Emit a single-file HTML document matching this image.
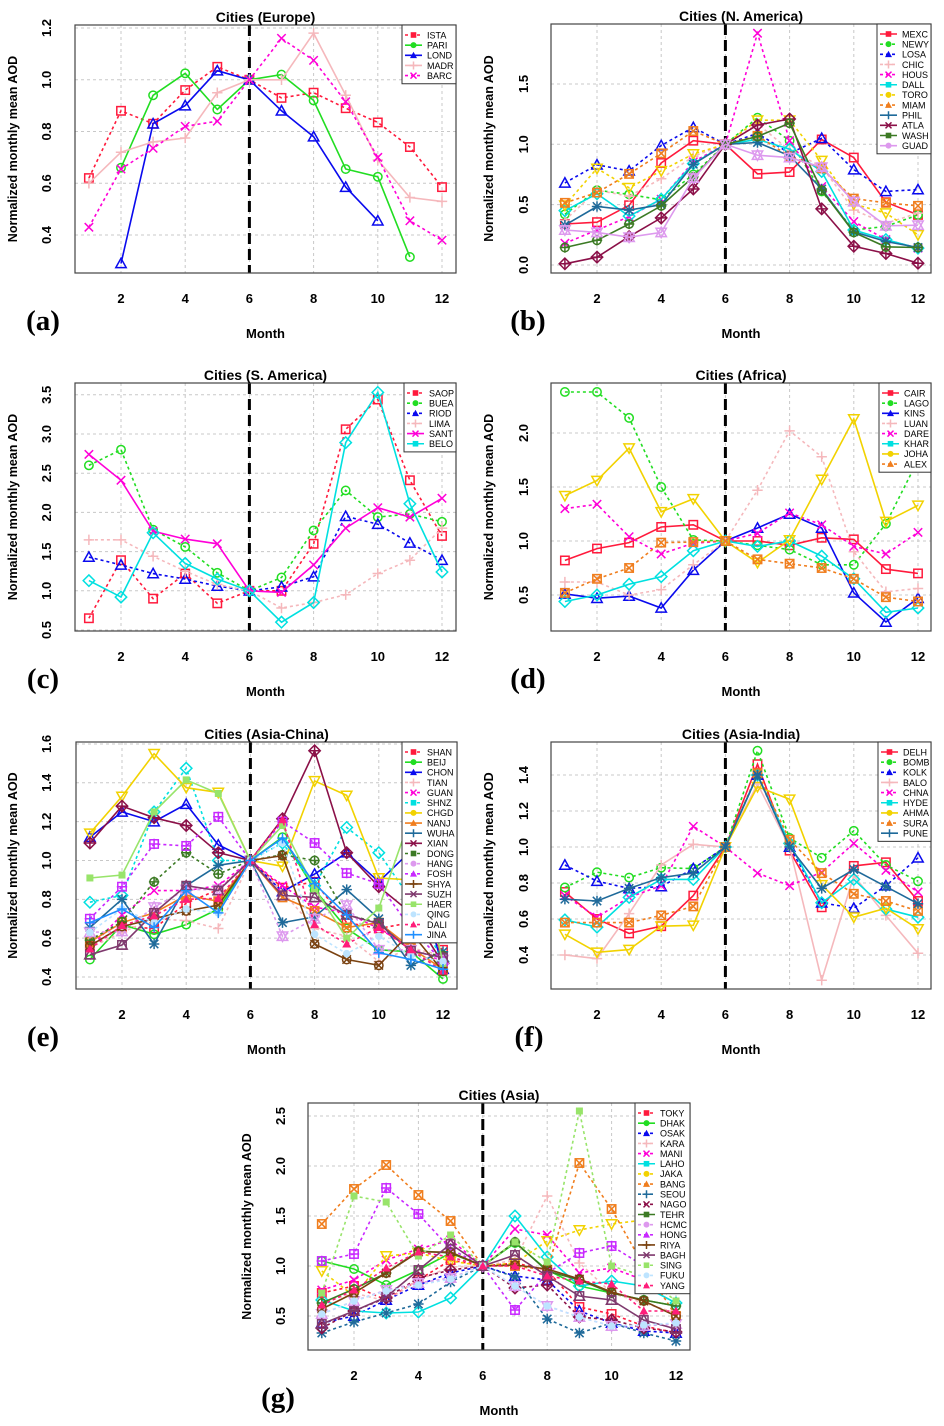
<!DOCTYPE html>
<html><head><meta charset="utf-8"><title>Normalized monthly mean AOD by region</title>
<style>
html,body{margin:0;padding:0;background:#fff;}
svg{display:block;font-family:"Liberation Sans",Arial,sans-serif;}
.t{font-weight:bold;}
</style></head>
<body>
<svg id="fig" width="944" height="1426" viewBox="0 0 944 1426" xmlns="http://www.w3.org/2000/svg"></svg>
<script>
const months = [1,2,3,4,5,6,7,8,9,10,11,12];
const yTicksA = [0.4,0.6,0.8,1.0,1.2];
const yTicksB = [0.0,0.5,1.0,1.5];
const yTicksC = [0.5,1.0,1.5,2.0,2.5,3.0,3.5];
const yTicksD = [0.5,1.0,1.5,2.0];
const yTicksE = [0.4,0.6,0.8,1.0,1.2,1.4,1.6];
const yTicksF = [0.4,0.6,0.8,1.0,1.2,1.4];
const yTicksG = [0.5,1.0,1.5,2.0,2.5];
const xTicks = [2,4,6,8,10,12];

const namesA = ["ISTA","PARI","LOND","MADR","BARC"];
const dashA = [1,0,0,0,1];
const valsA = [
[0.62,0.88,0.83,0.96,1.05,1,0.93,0.95,0.89,0.835,0.74,0.585],
[null,0.66,0.94,1.025,0.885,1,1.02,0.92,0.655,0.625,0.315,null],
[null,0.29,0.83,0.9,1.035,1,0.88,0.78,0.585,0.455,null,null],
[0.6,0.72,0.76,0.775,0.95,1,1.0,1.18,0.94,0.69,0.545,0.53],
[0.43,0.655,0.735,0.82,0.84,1,1.16,1.075,0.915,0.70,0.455,0.38]];

const namesB = ["MEXC","NEWY","LOSA","CHIC","HOUS","DALL","TORO","MIAM","PHIL","ATLA","WASH","GUAD"];
const dashB = [0,1,1,1,1,0,1,1,0,0,0,0];
const valsB = [
[0.34,0.355,0.495,0.845,1.03,1,0.755,0.77,1.04,0.89,0.52,0.415],
[0.42,0.62,0.585,0.54,0.75,1,1.22,1.03,0.61,0.29,0.32,0.415],
[0.68,0.83,0.78,0.99,1.14,1,1.09,0.925,1.05,0.79,0.61,0.625],
[0.37,0.62,0.57,0.715,0.9,1,1.17,0.95,0.815,0.455,0.345,0.43],
[0.18,0.29,0.4,0.545,0.855,1,1.92,1.03,0.65,0.36,0.21,0.14],
[0.45,0.59,0.405,0.545,0.84,1,1.04,0.96,0.775,0.29,0.21,0.14],
[0.495,0.8,0.64,0.78,0.92,1,1.2,1.2,0.865,0.505,0.43,0.25],
[0.515,0.6,0.755,0.925,1.11,1,1.07,0.9,0.8,0.55,0.515,0.49],
[0.33,0.485,0.455,0.5,0.835,1,1.015,0.905,0.63,0.275,0.195,0.145],
[0.01,0.065,0.235,0.39,0.63,1,1.16,1.21,0.465,0.155,0.095,0.015],
[0.145,0.205,0.34,0.49,0.73,1,1.065,1.175,0.62,0.27,0.15,0.145],
[0.29,0.27,0.23,0.27,0.72,1,0.91,0.89,0.81,0.525,0.325,0.33]];

const namesC = ["SAOP","BUEA","RIOD","LIMA","SANT","BELO"];
const dashC = [1,1,1,1,0,0];
const valsC = [
[0.65,1.39,0.9,1.22,0.84,1,1.0,1.6,3.06,3.44,2.41,1.7],
[2.6,2.8,1.78,1.56,1.23,1,1.17,1.77,2.28,1.94,1.98,1.88],
[1.43,1.33,1.22,1.15,1.06,1,1.05,1.18,1.95,1.85,1.61,1.39],
[1.65,1.65,1.44,1.25,1.08,1,0.78,0.85,0.95,1.22,1.39,1.8],
[2.74,2.41,1.76,1.66,1.6,1,0.98,1.33,1.8,2.06,1.94,2.18],
[1.13,0.92,1.74,1.35,1.15,1,0.6,0.85,2.89,3.53,2.11,1.24]];

const namesD = ["CAIR","LAGO","KINS","LUAN","DARE","KHAR","JOHA","ALEX"];
const dashD = [0,1,0,1,1,0,0,1];
const valsD = [
[0.82,0.93,0.985,1.13,1.15,1,1.0,0.96,1.03,1.015,0.74,0.70],
[2.38,2.38,2.14,1.5,1.01,1,0.96,0.92,0.78,0.78,1.16,1.75],
[0.51,0.47,0.49,0.38,0.73,1,1.12,1.25,1.12,0.52,0.25,0.47],
[0.62,0.62,0.5,0.55,0.78,1,1.47,2.02,1.78,0.9,0.53,0.56],
[1.3,1.34,1.04,0.88,0.98,1,1.07,1.26,1.15,0.95,0.88,1.08],
[0.44,0.5,0.6,0.67,0.91,1,0.95,1.0,0.86,0.65,0.34,0.38],
[1.42,1.56,1.86,1.27,1.39,1,0.8,1.01,1.57,2.13,1.18,1.33],
[0.52,0.65,0.75,0.985,0.99,1,0.83,0.79,0.75,0.65,0.48,0.44]];

const namesE = ["SHAN","BEIJ","CHON","TIAN","GUAN","SHNZ","CHGD","NANJ","WUHA","XIAN","DONG","HANG","FOSH","SHYA","SUZH","HAER","QING","DALI","JINA"];
const dashE = [1,0,0,1,1,1,0,0,0,0,1,1,1,0,0,0,1,1,0];
const valsE = [
[0.56,0.66,0.65,0.78,0.85,1,0.86,0.89,0.68,0.65,0.68,0.54],
[0.49,0.67,0.62,0.67,0.75,1,1.12,0.85,0.65,0.54,0.53,0.39],
[1.12,1.25,1.2,1.29,1.08,1,0.84,0.93,1.04,0.89,1.05,0.44],
[0.55,0.63,0.7,0.69,0.65,1,0.84,0.65,0.61,0.48,0.55,0.51],
[0.55,0.72,0.845,0.845,0.87,1,0.87,0.76,0.73,0.65,0.55,0.48],
[0.785,0.82,1.25,1.475,1.0,1,1.09,0.87,1.17,1.04,0.8,0.48],
[1.14,1.33,1.55,1.375,1.35,1,0.97,1.41,1.335,0.91,0.9,0.88],
[0.58,0.68,0.73,0.82,0.79,1,0.81,0.74,0.655,0.68,0.55,0.44],
[0.655,0.8,0.57,0.87,0.975,1,0.68,0.71,0.85,0.7,0.46,0.53],
[1.09,1.28,1.22,1.18,1.04,1,1.215,1.565,1.04,0.865,0.73,0.47],
[0.59,0.685,0.89,1.04,0.93,1,1.03,1.0,0.72,0.68,0.53,0.51],
[0.63,0.635,0.76,0.85,0.85,1,0.61,0.7,0.77,0.54,0.54,0.49],
[0.7,0.865,1.085,1.075,1.225,1,1.2,1.09,0.935,0.88,0.65,0.48],
[0.56,0.66,0.7,0.74,0.77,1,1.025,0.57,0.49,0.46,0.63,0.43],
[0.515,0.565,0.73,0.87,0.845,1,0.82,0.81,0.72,0.675,0.535,0.5],
[0.91,0.925,1.25,1.415,1.345,1,1.18,0.855,0.6,0.755,1.23,0.47],
[0.63,0.75,0.68,0.75,0.73,1,1.09,0.62,0.52,0.61,0.51,0.48],
[0.545,0.665,0.715,0.8,0.805,1,1.21,0.67,0.57,0.655,0.54,0.43],
[0.68,0.75,0.655,0.845,0.73,1,1.115,0.88,0.72,0.525,0.49,0.44]];

const namesF = ["DELH","BOMB","KOLK","BALO","CHNA","HYDE","AHMA","SURA","PUNE"];
const dashF = [0,1,1,0,1,0,0,1,0];
const valsF = [
[0.75,0.6,0.52,0.56,0.73,1,1.46,0.98,0.665,0.895,0.915,0.7],
[0.775,0.86,0.83,0.885,0.88,1,1.535,1.05,0.94,1.09,0.9,0.81],
[0.9,0.81,0.77,0.78,0.88,1,1.4,1.0,0.69,0.66,0.785,0.94],
[0.4,0.38,0.63,0.9,1.015,1,1.35,1.0,0.26,0.84,0.62,0.41],
[0.73,0.61,0.72,0.785,1.115,1,0.855,0.785,0.86,1.02,0.87,0.75],
[0.595,0.555,0.72,0.82,0.82,1,1.4,1.02,0.69,0.82,0.655,0.61],
[0.515,0.415,0.43,0.56,0.565,1,1.335,1.265,0.79,0.61,0.66,0.545],
[0.58,0.58,0.58,0.62,0.67,1,1.41,1.04,0.855,0.74,0.7,0.645],
[0.71,0.7,0.77,0.83,0.855,1,1.4,1.0,0.77,0.875,0.78,0.685]];

const namesG = ["TOKY","DHAK","OSAK","KARA","MANI","LAHO","JAKA","BANG","SEOU","NAGO","TEHR","HCMC","HONG","RIYA","BAGH","SING","FUKU","YANG"];
const dashG = [1,0,1,1,1,0,1,1,1,1,0,1,1,0,0,1,1,1];
const valsG = [
[0.73,0.8,0.66,0.86,1.06,1,1.03,0.96,0.59,0.52,0.4,0.33],
[1.05,0.97,0.81,0.96,1.13,1,1.23,0.96,0.8,0.73,0.66,0.6],
[0.43,0.5,0.66,0.81,0.93,1,0.9,0.86,0.55,0.43,0.35,0.33],
[0.63,0.73,0.65,0.86,0.99,1,1.06,1.7,1.03,0.73,0.63,0.53],
[0.76,0.86,1.06,1.17,1.26,1,1.37,1.31,0.93,0.98,0.86,0.8],
[0.66,0.55,0.53,0.54,0.68,1,1.5,1.09,0.8,0.85,0.8,0.63],
[0.95,0.7,1.1,1.13,1.05,1,1.03,1.25,1.36,1.42,1.46,1.4],
[1.42,1.77,2.01,1.71,1.45,1,1.0,0.96,2.03,1.57,1.0,0.5],
[0.33,0.44,0.53,0.62,0.84,1,0.89,0.47,0.33,0.43,0.33,0.25],
[0.38,0.55,0.68,0.88,0.96,1,0.78,0.81,0.49,0.46,0.38,0.34],
[0.63,0.77,0.93,1.15,1.13,1,1.24,0.95,0.86,0.73,0.66,0.6],
[0.52,0.65,0.76,0.83,0.88,1,0.8,0.6,0.49,0.4,0.4,0.42],
[1.05,1.12,1.78,1.52,1.17,1,0.56,0.93,1.13,1.2,1.0,0.8],
[0.57,0.73,0.93,1.14,1.14,1,1.01,0.97,0.87,0.74,0.65,0.5],
[0.42,0.55,0.69,0.96,1.22,1,1.11,0.9,0.7,0.66,0.46,0.37],
[0.73,1.7,1.64,1.1,1.31,1,1.24,1.04,2.55,1.0,0.9,0.65],
[0.52,0.65,0.75,0.81,0.87,1,0.8,0.6,0.49,0.4,0.41,0.43],
[0.61,0.76,0.98,1.14,1.09,1,1.0,0.9,0.85,0.82,0.55,0.55]];

const COLORS = ["#ff1a3c","#22dd22","#0a0aee","#f5b8bc","#ff00d8","#00e0e0","#f2d200","#f07e1e","#1f6a9a","#8b1048","#3c7a24","#dd99ee","#c828ff","#7a4210","#7f3a6e","#98e46a","#bde4ff","#ff1d7a","#1e8fff"];
const NS = "http://www.w3.org/2000/svg";
const fig = document.getElementById('fig');
function el(tag, attrs, parent){const e=document.createElementNS(NS,tag);for(const k in attrs)e.setAttribute(k,attrs[k]);(parent||fig).appendChild(e);return e;}

function marker(g, pch, x, y, c){
  const s=4.2, o={stroke:c,'stroke-width':1.5,fill:'none'};
  const sq=()=>el('rect',Object.assign({x:x-s,y:y-s,width:2*s,height:2*s},o),g);
  const ci=()=>el('circle',Object.assign({cx:x,cy:y,r:s},o),g);
  const tri=()=>el('polygon',Object.assign({points:`${x},${y-s-1} ${x-s-1},${y+s} ${x+s+1},${y+s}`},o),g);
  const tdn=()=>el('polygon',Object.assign({points:`${x},${y+s+1} ${x-s-1},${y-s} ${x+s+1},${y-s}`},o),g);
  const pl=()=>el('path',Object.assign({d:`M${x-s-1} ${y}H${x+s+1}M${x} ${y-s-1}V${y+s+1}`},o),g);
  const xx=()=>el('path',Object.assign({d:`M${x-s} ${y-s}L${x+s} ${y+s}M${x-s} ${y+s}L${x+s} ${y-s}`},o),g);
  const di=()=>el('polygon',Object.assign({points:`${x},${y-s-1.5} ${x+s+1.5},${y} ${x},${y+s+1.5} ${x-s-1.5},${y}`},o),g);
  switch(pch){
    case 0: sq(); break; case 1: ci(); break; case 2: tri(); break; case 3: pl(); break;
    case 4: xx(); break; case 5: di(); break; case 6: tdn(); break;
    case 7: sq(); xx(); break; case 8: pl(); xx(); break; case 9: di(); pl(); break;
    case 10: ci(); pl(); break; case 11: tri(); tdn(); break; case 12: sq(); pl(); break;
    case 13: ci(); xx(); break; case 14: sq(); tri(); break;
    case 15: el('rect',{x:x-3.5,y:y-3.5,width:7,height:7,fill:c},g); break;
    case 16: el('circle',{cx:x,cy:y,r:3.8,fill:c},g); break;
    case 17: el('polygon',{points:`${x},${y-4.5} ${x-4.5},${y+3.5} ${x+4.5},${y+3.5}`,fill:c},g); break;
    default: pl(); break;
  }
}
function legMarker(g, i, x, y, c){
  const k=i%5;
  if(k===0) el('rect',{x:x-2.8,y:y-2.8,width:5.6,height:5.6,fill:c},g);
  else if(k===1) el('circle',{cx:x,cy:y,r:3,fill:c},g);
  else if(k===2) el('polygon',{points:`${x},${y-3.5} ${x-3.5},${y+2.8} ${x+3.5},${y+2.8}`,fill:c},g);
  else if(k===3) el('path',{d:`M${x-4} ${y}H${x+4}M${x} ${y-4}V${y+4}`,stroke:c,'stroke-width':1.5},g);
  else el('path',{d:`M${x-3} ${y-3}L${x+3} ${y+3}M${x-3} ${y+3}L${x+3} ${y-3}`,stroke:c,'stroke-width':1.5},g);
}

function panel(p){
  const g=el('g',{});
  
  
  const xs=m=>p.x2+(m-2)*p.dx;
  const ys=v=>p.yref-(v-p.vref)*p.ky;
  // grid
  const grid=el('g',{},g);
  
  
  xTicks.forEach(m=>el('line',{x1:xs(m),x2:xs(m),y1:p.y0,y2:p.y1,stroke:'#c8c8c8','stroke-width':1,'stroke-dasharray':'3,3'},grid));
  p.yt.forEach(v=>el('line',{x1:p.x0,x2:p.x1,y1:ys(v),y2:ys(v),stroke:'#c8c8c8','stroke-width':1,'stroke-dasharray':'3,3'},grid));
  // vertical line at month 6
  const vl=el('line',{x1:xs(6),x2:xs(6),y1:p.y0,y2:p.y1,stroke:'#000','stroke-width':3,'stroke-dasharray':'11,5'},g);
  
  
  // series
  p.vals.forEach((vals,i)=>{
    const c=COLORS[i]; const sg=el('g',{},g);
    
    
    let d='',pen=false;
    vals.forEach((v,j)=>{ if(v===null){pen=false;return;} d+=(pen?'L':'M')+xs(months[j]).toFixed(1)+' '+ys(v).toFixed(1); pen=true; });
    el('path',{d:d,fill:'none',stroke:c,'stroke-width':1.6,'stroke-dasharray':p.dash[i]?'3,3':'none'},sg);
    vals.forEach((v,j)=>{ if(v!==null) marker(sg,i,xs(months[j]),ys(v),c); });
  });
  // box
  const box=el('rect',{x:p.x0,y:p.y0,width:p.x1-p.x0,height:p.y1-p.y0,fill:'none',stroke:'#444','stroke-width':1.2},g);
  
  
  // x ticks
  const xa=el('g',{},g);
  
  
  xTicks.forEach(m=>{const t=el('text',{x:xs(m),y:p.y1+30,'text-anchor':'middle','font-size':13,class:'t'},xa);t.textContent=String(m);});
  const ya=el('g',{},g);
  
  
  p.yt.forEach(v=>{const y=ys(v);const t=el('text',{x:p.tx,y:y,'text-anchor':'middle','font-size':13,class:'t',transform:`rotate(-90 ${p.tx} ${y})`},ya);t.textContent=v.toFixed(1);});
  // y title
  const cy=(p.y0+p.y1)/2;
  const yt=el('text',{x:p.lx,y:cy,'text-anchor':'middle','font-size':12.5,class:'t',transform:`rotate(-90 ${p.lx} ${cy})`},g);
  yt.textContent='Normalized monthly mean AOD';
  
  
  const cx=(p.x0+p.x1)/2;
  const ti=el('text',{x:cx,y:p.y0-3,'text-anchor':'middle','font-size':14,class:'t'},g);
  ti.textContent=p.title;
  
  
  const xl=el('text',{x:cx,y:p.y1+65,'text-anchor':'middle','font-size':13,class:'t'},g);
  xl.textContent='Month';
  
  
  const lt=el('text',{x:p.ltx,y:p.y1+57,'text-anchor':'middle','font-size':29,'font-weight':'bold','font-family':'"Liberation Serif",serif'},g);
  lt.textContent='('+p.id+')';
  
  
  // legend
  const lg=el('g',{},g);
  
  
  const lw=p.lw, lh=p.names.length*10.15+8, lx0=p.x1-lw;
  el('rect',{x:lx0,y:p.y0,width:lw,height:lh,fill:'#fff',stroke:'#333','stroke-width':1},lg);
  p.names.forEach((n,i)=>{
    const ry=p.y0+10+i*10.15; const c=COLORS[i];
    const e=el('g',{},lg);
    
    
    el('line',{x1:lx0+3,x2:lx0+20,y1:ry,y2:ry,stroke:c,'stroke-width':1.6,'stroke-dasharray':p.dash[i]?'3,3':'none'},e);
    legMarker(e,i,lx0+11.5,ry,c);
    const t=el('text',{x:lx0+25,y:ry+3.3,'font-size':9},e); t.textContent=n;
  });
}

panel({id:'a',title:'Cities (Europe)',names:namesA,vals:valsA,dash:dashA,yt:yTicksA,x0:75,x1:456,y0:25,y1:273,x2:121,dx:32.1,yref:235,vref:0.4,ky:258.75,tx:51,lx:17,ltx:43,lw:54});
panel({id:'b',title:'Cities (N. America)',names:namesB,vals:valsB,dash:dashB,yt:yTicksB,x0:551,x1:931,y0:24,y1:273,x2:597,dx:32.1,yref:265,vref:0,ky:120.7,tx:528,lx:493,ltx:528,lw:54});
panel({id:'c',title:'Cities (S. America)',names:namesC,vals:valsC,dash:dashC,yt:yTicksC,x0:75,x1:456,y0:383,y1:631,x2:121,dx:32.1,yref:630,vref:0.5,ky:78.4,tx:51,lx:17,ltx:43,lw:52});
panel({id:'d',title:'Cities (Africa)',names:namesD,vals:valsD,dash:dashD,yt:yTicksD,x0:551,x1:931,y0:383,y1:631,x2:597,dx:32.1,yref:595,vref:0.5,ky:108,tx:528,lx:493,ltx:528,lw:52});
panel({id:'e',title:'Cities (Asia-China)',names:namesE,vals:valsE,dash:dashE,yt:yTicksE,x0:76,x1:457,y0:742,y1:989,x2:122,dx:32.1,yref:977,vref:0.4,ky:194.2,tx:51,lx:17,ltx:43,lw:55});
panel({id:'f',title:'Cities (Asia-India)',names:namesF,vals:valsF,dash:dashF,yt:yTicksF,x0:551,x1:931,y0:742,y1:989,x2:597,dx:32.1,yref:955,vref:0.4,ky:180,tx:528,lx:493,ltx:529,lw:53});
panel({id:'g',title:'Cities (Asia)',names:namesG,vals:valsG,dash:dashG,yt:yTicksG,x0:308,x1:690,y0:1103,y1:1350,x2:354,dx:32.2,yref:1316,vref:0.5,ky:100,tx:285,lx:251,ltx:278,lw:55});
</script>
</body></html>
